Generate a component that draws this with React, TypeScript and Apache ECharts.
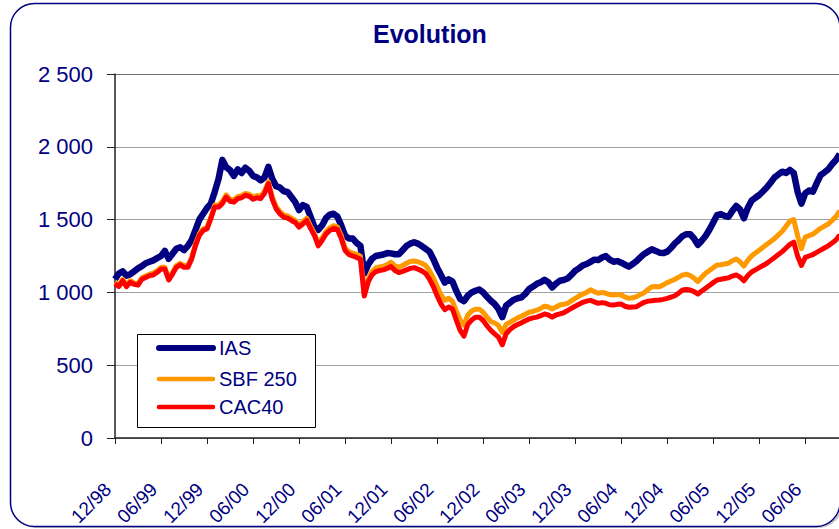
import React, { useEffect, useRef } from "react";
import * as echarts from "echarts";

// x positions: months since 12/98, one point every half month
const STEP_MONTHS = 0.5;
const X_MAX_MONTHS = 94.4;

const xTickLabels = [
  "12/98", "06/99", "12/99", "06/00", "12/00", "06/01", "12/01", "06/02",
  "12/02", "06/03", "12/03", "06/04", "12/04", "06/05", "12/05", "06/06",
];
const yTickLabels = ["0", "500", "1 000", "1 500", "2 000", "2 500"];

const seriesNames = ["IAS", "SBF 250", "CAC40"];
const seriesColors = ["#000080", "#FF9900", "#FF0000"];

const ias = [
  1090, 1130, 1145, 1115, 1125, 1145, 1165, 1180, 1200, 1210, 1220, 1235,
  1250, 1285, 1230, 1265, 1300, 1310, 1290, 1320, 1360, 1430, 1500, 1540,
  1580, 1610, 1690, 1780, 1910, 1860, 1840, 1800, 1845, 1820, 1856, 1835,
  1800, 1790, 1770, 1790, 1862, 1780, 1730, 1720, 1695, 1690, 1655, 1620,
  1565, 1600, 1587, 1520, 1450, 1430, 1460, 1510, 1534, 1540, 1520, 1460,
  1390, 1370, 1370, 1340, 1320, 1130, 1190, 1230, 1250, 1255, 1260, 1270,
  1268, 1262, 1262, 1290, 1318, 1335, 1345, 1335, 1318, 1300, 1280, 1230,
  1170, 1120, 1068, 1090, 1075, 1010, 955, 940, 977, 1000, 1011, 1020,
  1000, 970, 943, 920, 886, 830, 909, 930, 950, 960, 966, 990,
  1023, 1040, 1059, 1070, 1086, 1070, 1034, 1060, 1080, 1085, 1095, 1120,
  1148, 1165, 1186, 1195, 1210, 1225, 1222, 1240, 1250, 1225, 1211, 1215,
  1204, 1190, 1177, 1195, 1215, 1240, 1264, 1280, 1296, 1285, 1273, 1270,
  1280, 1305, 1337, 1360, 1387, 1400, 1399, 1370, 1326, 1355, 1387, 1430,
  1480, 1530, 1538, 1525, 1520, 1560, 1593, 1570, 1509, 1580, 1630, 1650,
  1669, 1695, 1722, 1755, 1790, 1810, 1829, 1820, 1841, 1820, 1692, 1610,
  1680, 1700, 1692, 1750, 1806, 1825, 1845, 1880, 1909, 1950,
];

const sbf250 = [
  1070, 1050, 1090, 1050, 1080, 1065, 1062, 1100, 1113, 1125, 1132, 1150,
  1172, 1172, 1097, 1138, 1184, 1200, 1184, 1184, 1242, 1334, 1402, 1437,
  1450, 1518, 1600, 1600, 1625, 1670, 1640, 1635, 1658, 1665, 1680, 1675,
  1655, 1665, 1660, 1695, 1760, 1655, 1590, 1555, 1532, 1525, 1510, 1495,
  1463, 1485, 1510, 1455, 1407, 1337, 1373, 1417, 1443, 1458, 1450, 1390,
  1305, 1280, 1270, 1262, 1248, 995, 1092, 1143, 1168, 1175, 1180, 1192,
  1207, 1182, 1172, 1185, 1200, 1212, 1216, 1210, 1200, 1185, 1150, 1100,
  1040, 985, 945, 960, 940, 870, 810, 775, 845, 872, 885, 885,
  864, 830, 800, 790, 773, 725, 780, 795, 810, 825, 836, 850,
  864, 870, 878, 890, 905, 900, 886, 900, 914, 918, 925, 942,
  959, 975, 989, 1000, 1018, 1005, 994, 1000, 994, 985, 982, 985,
  982, 968, 959, 963, 971, 985, 998, 1020, 1039, 1040, 1039, 1052,
  1067, 1078, 1090, 1105, 1119, 1125, 1115, 1098, 1074, 1105, 1131, 1150,
  1170, 1188, 1190, 1195, 1200, 1218, 1230, 1210, 1180, 1220, 1250, 1270,
  1290, 1310, 1330, 1350, 1370, 1395, 1420, 1455, 1490, 1500, 1390, 1300,
  1380, 1390, 1400, 1420, 1440, 1455, 1470, 1495, 1520, 1560,
];

const cac40 = [
  1060, 1040, 1080, 1040, 1070, 1055, 1050, 1090, 1103, 1115, 1120, 1138,
  1160, 1160, 1085, 1126, 1172, 1189, 1172, 1172, 1230, 1322, 1391, 1425,
  1437, 1506, 1586, 1586, 1610, 1655, 1625, 1620, 1644, 1650, 1667, 1660,
  1640, 1650, 1644, 1680, 1747, 1640, 1575, 1540, 1517, 1510, 1494, 1480,
  1448, 1470, 1494, 1440, 1391, 1320, 1356, 1400, 1425, 1440, 1432, 1370,
  1287, 1260, 1250, 1240, 1227, 975, 1070, 1120, 1143, 1150, 1155, 1165,
  1177, 1150, 1136, 1145, 1155, 1165, 1170, 1160, 1148, 1130, 1091, 1040,
  977, 920, 882, 900, 886, 810, 740, 700, 780, 810, 830, 830,
  807, 770, 739, 715, 693, 640, 716, 745, 766, 780, 791, 805,
  818, 825, 830, 840, 852, 845, 830, 845, 852, 860, 875, 890,
  905, 918, 932, 940, 945, 935, 925, 930, 925, 915, 913, 918,
  920, 905, 898, 900, 902, 918, 932, 940, 943, 946, 948, 952,
  959, 968, 977, 995, 1016, 1020, 1016, 1005, 989, 1010, 1028, 1048,
  1067, 1085, 1090, 1095, 1100, 1112, 1120, 1105, 1080, 1115, 1140, 1155,
  1170, 1185, 1200, 1220, 1240, 1260, 1280, 1305, 1330, 1345, 1250, 1185,
  1240, 1250, 1260, 1275, 1290, 1305, 1320, 1340, 1360, 1395,
];

const NAVY = "#000080";
const FONT = "'Liberation Sans', Arial, sans-serif";

export default function App() {
  const ref = useRef<HTMLDivElement>(null);

  useEffect(() => {
    if (!ref.current) return;
    document.body.style.margin = "0";
    document.body.style.overflow = "hidden";
    document.documentElement.style.overflow = "hidden";
    const chart = echarts.init(ref.current, null, { renderer: "svg" });
    const toPairs = (arr: number[]) => arr.map((v, i) => [i * STEP_MONTHS, v]);
    const lineWidths = [6.5, 5, 5];
    const legendWidths = [6, 4.5, 4.5];
    const legendYs = [348, 379, 407];

    const legendGraphics: any[] = [
      {
        type: "rect",
        z: 100,
        silent: true,
        shape: { x: 137.5, y: 334.5, width: 178, height: 93 },
        style: { fill: "#ffffff", stroke: "#000000", lineWidth: 1 },
      },
    ];
    seriesNames.forEach((name, i) => {
      legendGraphics.push({
        type: "line",
        z: 101,
        silent: true,
        shape: { x1: 159, y1: legendYs[i], x2: 213, y2: legendYs[i] },
        style: { stroke: seriesColors[i], lineWidth: legendWidths[i], lineCap: "round" },
      });
      legendGraphics.push({
        type: "text",
        z: 101,
        silent: true,
        x: 219,
        y: legendYs[i],
        style: {
          text: name,
          fill: NAVY,
          font: `20px ${FONT}`,
          verticalAlign: "middle",
          align: "left",
        },
      });
    });

    chart.setOption({
      animation: false,
      backgroundColor: "#ffffff",
      textStyle: { fontFamily: FONT },
      title: {
        text: "Evolution",
        left: 373,
        top: 21,
        padding: 0,
        textStyle: { color: NAVY, fontSize: 25, fontWeight: "bold", fontFamily: FONT },
      },
      graphic: [
        {
          type: "rect",
          z: -2,
          silent: true,
          shape: { x: 12, y: 6, width: 830, height: 521, r: 24 },
          style: { fill: "none", stroke: "#c8c8c8", lineWidth: 2 },
        },
        {
          type: "rect",
          z: -1,
          silent: true,
          shape: { x: 10.5, y: 3.5, width: 829.5, height: 523, r: 24 },
          style: { fill: "#ffffff", stroke: NAVY, lineWidth: 1.5 },
        },
        ...legendGraphics,
      ],
      grid: {
        left: 115,
        right: 0,
        top: 74,
        bottom: 91,
        containLabel: false,
        outerBoundsMode: "none",
      },
      xAxis: {
        type: "value",
        min: 0,
        max: X_MAX_MONTHS,
        interval: 6,
        axisLine: { show: true, lineStyle: { color: "#222", width: 1.5 } },
        axisTick: { show: true, length: 6, lineStyle: { color: "#222" } },
        splitLine: { show: false },
        axisLabel: {
          rotate: 45,
          margin: 41,
          padding: [0, 10, 0, 0],
          color: NAVY,
          fontSize: 19,
          fontFamily: FONT,
          showMaxLabel: false,
          formatter: (v: number) =>
            Math.abs(v % 6) < 1e-6 && xTickLabels[Math.round(v / 6)] ? xTickLabels[Math.round(v / 6)] : "",
        },
      },
      yAxis: {
        type: "value",
        min: 0,
        max: 2500,
        interval: 500,
        axisLine: { show: true, lineStyle: { color: "#222", width: 1.5 } },
        axisTick: { show: true, length: 8, lineStyle: { color: "#222" } },
        splitLine: {
          show: true,
          lineStyle: {
            color: ["#a0a0a0", "#a0a0a0", "#a0a0a0", "#a0a0a0", "#a0a0a0", "#707070"],
            width: 1,
          },
        },
        axisLabel: {
          margin: 22,
          color: NAVY,
          fontSize: 22,
          fontFamily: FONT,
          formatter: (v: number) => yTickLabels[Math.round(v / 500)] ?? "",
        },
      },
      series: seriesNames.map((name, i) => ({
        name,
        type: "line",
        data: toPairs([ias, sbf250, cac40][i]),
        symbol: "none",
        showSymbol: false,
        clip: true,
        lineStyle: { color: seriesColors[i], width: lineWidths[i], join: "round" },
        itemStyle: { color: seriesColors[i] },
        z: 2 + i,
      })),
    });

    return () => chart.dispose();
  }, []);

  return (
    <div
      ref={ref}
      style={{ position: "absolute", left: 0, top: 0, width: 839, height: 529 }}
    />
  );
}
